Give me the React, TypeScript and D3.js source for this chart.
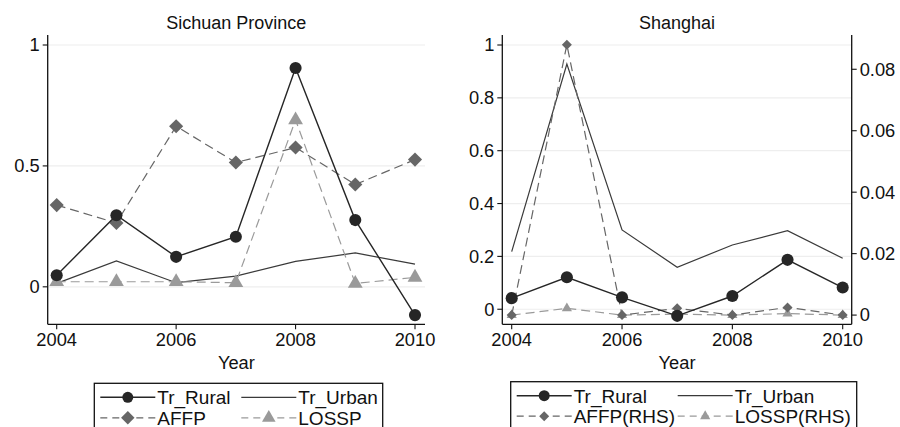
import * as d3 from 'd3'

// year axis shared by both panels
const years = [2004, 2005, 2006, 2007, 2008, 2009, 2010]

// Sichuan Province
const scRural = [0.048, 0.296, 0.124, 0.207, 0.905, 0.276, -0.117]
const scUrban = [0.014, 0.107, 0.017, 0.044, 0.105, 0.14, 0.094]
const scAffp = [0.338, 0.264, 0.664, 0.514, 0.576, 0.423, 0.526]
const scLossp = [0.021, 0.021, 0.021, 0.017, 0.69, 0.014, 0.039]
const scTicks = [0, 0.5, 1]

// Shanghai (AFFP, LOSSP on the right hand side axis)
const shRural = [0.042, 0.121, 0.045, -0.025, 0.05, 0.187, 0.082]
const shUrban = [0.218, 0.928, 0.3, 0.159, 0.243, 0.297, 0.193]
const shAffp = [0, 0.088, 0, 0.0022, 0, 0.0025, 0]
const shLossp = [0, 0.0022, 0, 0.0003, 0, 0.0005, 0]
const shTicks = [0, 0.2, 0.4, 0.6, 0.8, 1]
const shRhsTicks = [0, 0.02, 0.04, 0.06, 0.08]

const xTicks = [2004, 2006, 2008, 2010]

const FONT = '"Liberation Sans", Arial, Helvetica, sans-serif'
const FS = 18.3
const FS_TITLE = 18
const FS_LEG = 19
const C_RURAL = '#262626'
const C_URBAN = '#3a3a3a'
const C_AFFP = '#666666'
const C_LOSSP = '#9a9a9a'
const DASH = '9,5'

type Marker = 'circle' | 'diamond' | 'triangle' | 'none'

function markerPath(kind: Marker, size: number) {
  if (kind === 'circle') return d3.symbol(d3.symbolCircle, size)()!
  if (kind === 'diamond') return d3.symbol(d3.symbolSquare, size)()!
  if (kind === 'triangle') return d3.symbol(d3.symbolTriangle, size)()!
  return ''
}

interface SeriesDef {
  values: number[]
  rhs?: boolean
  color: string
  lineColor: string
  width: number
  dash?: string
  marker: Marker
  size: number
}

interface PanelProps {
  title: string
  left: number
  right: number
  top: number
  bottom: number
  yDomain: [number, number]
  yTicks: number[]
  rhsDomain?: [number, number]
  rhsTicks?: number[]
  xStart: number
  xEnd: number
  series: SeriesDef[]
}

function Panel(p: PanelProps) {
  const x = d3.scaleLinear().domain([2004, 2010]).range([p.xStart, p.xEnd])
  const y = d3.scaleLinear().domain(p.yDomain).range([p.bottom, p.top])
  const y2 = p.rhsDomain ? d3.scaleLinear().domain(p.rhsDomain).range([p.bottom, p.top]) : null
  const fmt = d3.format('')

  return (
    <g>
      <text x={(p.left + p.right) / 2} y={29} textAnchor="middle" fontSize={FS_TITLE} fill="#111">{p.title}</text>
      {/* grid */}
      {p.yTicks.map(t => (
        <line key={'g' + t} x1={p.left} x2={p.right} y1={y(t)} y2={y(t)} stroke="#eeeeee" strokeWidth={1.2} />
      ))}
      {/* series */}
      {p.series.map((s, i) => {
        const sc = s.rhs && y2 ? y2 : y
        const line = d3.line<number>().x((_, j) => x(years[j])).y(v => sc(v))
        const angle = s.marker === 'diamond' ? 45 : 0
        return (
          <g key={i}>
            <path d={line(s.values)!} fill="none" stroke={s.lineColor} strokeWidth={s.width} strokeDasharray={s.dash} />
            {s.marker !== 'none' && s.values.map((v, j) => (
              <path key={j} d={markerPath(s.marker, s.size)} fill={s.color}
                transform={`translate(${x(years[j])},${sc(v)}) rotate(${angle})`} />
            ))}
          </g>
        )
      })}
      {/* left axis */}
      <line x1={p.left} x2={p.left} y1={p.top - 10} y2={p.bottom} stroke="#111" strokeWidth={1.3} />
      {p.yTicks.map(t => (
        <g key={'y' + t}>
          <line x1={p.left - 5} x2={p.left} y1={y(t)} y2={y(t)} stroke="#111" strokeWidth={1.1} />
          <text x={p.left - 8} y={y(t)} dy="0.35em" textAnchor="end" fontSize={FS} fill="#111">{fmt(t)}</text>
        </g>
      ))}
      {/* right axis */}
      {y2 && p.rhsTicks && (
        <g>
          <line x1={p.right} x2={p.right} y1={p.top - 10} y2={p.bottom} stroke="#111" strokeWidth={1.3} />
          {p.rhsTicks.map(t => (
            <g key={'r' + t}>
              <line x1={p.right} x2={p.right + 5} y1={y2(t)} y2={y2(t)} stroke="#111" strokeWidth={1.1} />
              <text x={p.right + 8} y={y2(t)} dy="0.35em" fontSize={FS} fill="#111">{fmt(t)}</text>
            </g>
          ))}
        </g>
      )}
      {/* bottom axis */}
      <line x1={p.left} x2={p.right} y1={p.bottom} y2={p.bottom} stroke="#111" strokeWidth={1.3} />
      {xTicks.map(t => (
        <g key={'x' + t}>
          <line x1={x(t)} x2={x(t)} y1={p.bottom} y2={p.bottom + 5} stroke="#111" strokeWidth={1.1} />
          <text x={x(t)} y={p.bottom + 22} textAnchor="middle" fontSize={FS} fill="#111">{t}</text>
        </g>
      ))}
      <text x={(p.left + p.right) / 2} y={p.bottom + 45} textAnchor="middle" fontSize={FS} fill="#111">Year</text>
    </g>
  )
}

interface LegendItem {
  label: string
  color: string
  lineColor: string
  width: number
  dash?: string
  marker: Marker
  size: number
}

function Legend({ x0, y0, w, col2, items }: { x0: number; y0: number; w: number; col2: number; items: LegendItem[] }) {
  return (
    <g>
      <rect x={x0} y={y0} width={w} height={60} fill="white" stroke="#111" strokeWidth={1.3} />
      {items.map((it, i) => {
        const cx = x0 + (i % 2 === 0 ? 6 : col2)
        const cy = y0 + 14 + Math.floor(i / 2) * 20.5
        const angle = it.marker === 'diamond' ? 45 : 0
        return (
          <g key={it.label}>
            <line x1={cx} x2={cx + 55} y1={cy} y2={cy} stroke={it.lineColor} strokeWidth={it.width} strokeDasharray={it.dash ? '7,5' : undefined} />
            {it.marker !== 'none' && (
              <path d={markerPath(it.marker, it.size)} fill={it.color} transform={`translate(${cx + 27.5},${cy}) rotate(${angle})`} />
            )}
            <text x={cx + 57} y={cy} dy="0.36em" fontSize={FS_LEG} fill="#111">{it.label}</text>
          </g>
        )
      })}
    </g>
  )
}

export default function App() {
  const scSeries: SeriesDef[] = [
    { values: scUrban, color: C_URBAN, lineColor: C_URBAN, width: 1.2, marker: 'none', size: 0 },
    { values: scLossp, color: C_LOSSP, lineColor: C_LOSSP, width: 1.2, dash: DASH, marker: 'triangle', size: 95 },
    { values: scAffp, color: C_AFFP, lineColor: C_AFFP, width: 1.2, dash: DASH, marker: 'diamond', size: 100 },
    { values: scRural, color: C_RURAL, lineColor: C_RURAL, width: 1.4, marker: 'circle', size: 115 },
  ]
  const shSeries: SeriesDef[] = [
    { values: shUrban, color: C_URBAN, lineColor: C_URBAN, width: 1.2, marker: 'none', size: 0 },
    { values: shLossp, rhs: true, color: C_LOSSP, lineColor: C_LOSSP, width: 1.2, dash: DASH, marker: 'triangle', size: 45 },
    { values: shAffp, rhs: true, color: C_AFFP, lineColor: C_AFFP, width: 1.2, dash: DASH, marker: 'diamond', size: 50 },
    { values: shRural, color: C_RURAL, lineColor: C_RURAL, width: 1.4, marker: 'circle', size: 115 },
  ]

  return (
    <svg width={900} height={427} style={{ display: 'block', position: 'absolute', left: 0, top: 0, fontFamily: FONT, background: 'white' }}>
      <rect width={900} height={427} fill="white" />
      <Panel
        title="Sichuan Province"
        left={47.7} right={425} top={45} bottom={324.3}
        yDomain={[-0.155, 1.0]} yTicks={scTicks}
        xStart={56.7} xEnd={415}
        series={scSeries}
      />
      <Panel
        title="Shanghai"
        left={502.3} right={851.7} top={45} bottom={324.3}
        yDomain={[-0.057, 1.0]} yTicks={shTicks}
        rhsDomain={[-0.0030, 0.0879]} rhsTicks={shRhsTicks}
        xStart={511.7} xEnd={842.7}
        series={shSeries}
      />
      <Legend x0={94.3} y0={383.3} w={288.4} col2={147} items={[
        { label: 'Tr_Rural', color: C_RURAL, lineColor: C_RURAL, width: 1.4, marker: 'circle', size: 95 },
        { label: 'Tr_Urban', color: C_URBAN, lineColor: C_URBAN, width: 1.2, marker: 'none', size: 0 },
        { label: 'AFFP', color: C_AFFP, lineColor: C_AFFP, width: 1.2, dash: DASH, marker: 'diamond', size: 90 },
        { label: 'LOSSP', color: C_LOSSP, lineColor: C_LOSSP, width: 1.2, dash: DASH, marker: 'triangle', size: 80 },
      ]} />
      <Legend x0={510.7} y0={381.7} w={346} col2={167} items={[
        { label: 'Tr_Rural', color: C_RURAL, lineColor: C_RURAL, width: 1.4, marker: 'circle', size: 95 },
        { label: 'Tr_Urban', color: C_URBAN, lineColor: C_URBAN, width: 1.2, marker: 'none', size: 0 },
        { label: 'AFFP(RHS)', color: C_AFFP, lineColor: C_AFFP, width: 1.2, dash: DASH, marker: 'diamond', size: 50 },
        { label: 'LOSSP(RHS)', color: C_LOSSP, lineColor: C_LOSSP, width: 1.2, dash: DASH, marker: 'triangle', size: 45 },
      ]} />
    </svg>
  )
}
